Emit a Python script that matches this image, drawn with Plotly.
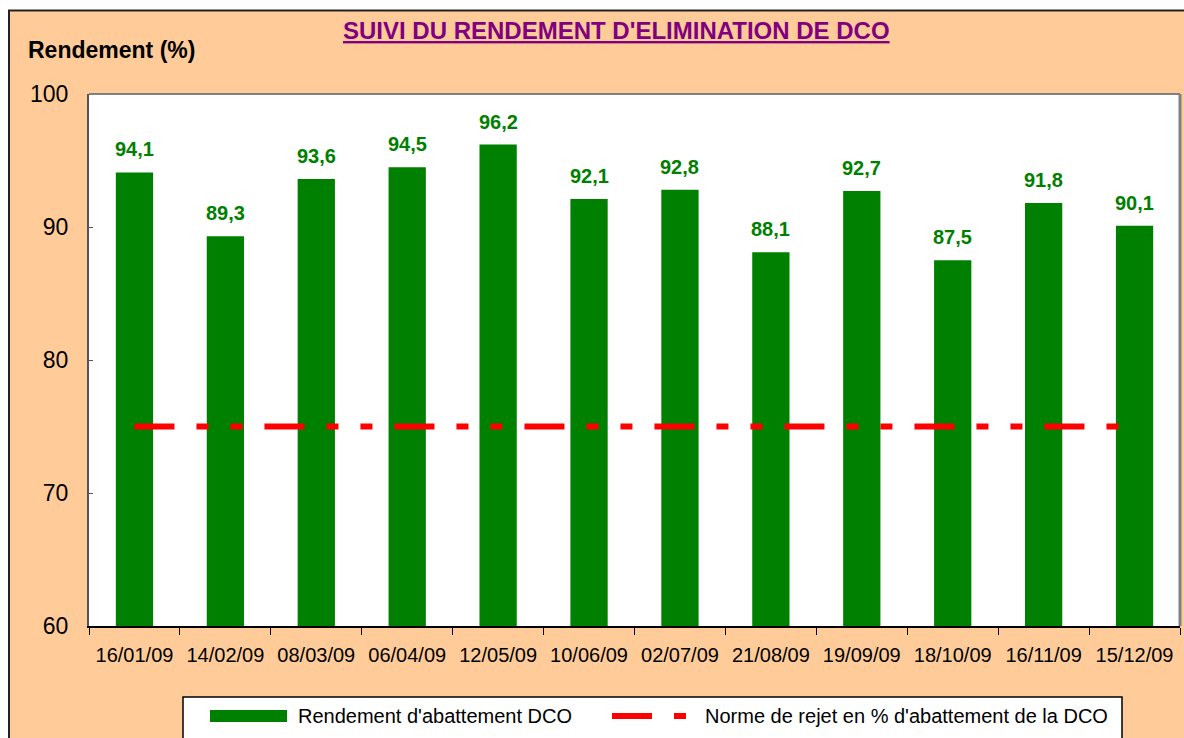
import plotly.graph_objects as go

dates = ["16/01/09", "14/02/09", "08/03/09", "06/04/09", "12/05/09", "10/06/09",
         "02/07/09", "21/08/09", "19/09/09", "18/10/09", "16/11/09", "15/12/09"]
rendement = [94.1, 89.3, 93.6, 94.5, 96.2, 92.1, 92.8, 88.1, 92.7, 87.5, 91.8, 90.1]
norme = [75] * len(dates)
labels = [f"{v:.1f}".replace(".", ",") for v in rendement]
series_names = ["Rendement d'abattement DCO", "Norme de rejet en % d'abattement de la DCO"]

FONT = "Liberation Sans, Arial, sans-serif"
PEACH = "#FFCC99"
GREEN = "#008000"
RED = "#FF0000"
DASH = "40px,22px,12px,22px,12px,22px"

fig = go.Figure()
fig.add_trace(go.Bar(x=dates, y=rendement, name=series_names[0],
                     marker=dict(color=GREEN, line=dict(width=0))))
fig.add_trace(go.Scatter(x=dates, y=norme, mode="lines", name=series_names[1],
                         line=dict(color=RED, width=6, dash=DASH)))

for d, v, t in zip(dates, rendement, labels):
    fig.add_annotation(x=d, y=v, text=f"<b>{t}</b>", showarrow=False,
                       yshift=23, font=dict(family=FONT, size=20, color=GREEN))

L, R, T, B = 89, 4, 94, 112
W, H = 1184, 738
pw, ph = W - L - R, H - T - B

def px_x(p):
    return (p - L) / pw

def px_y(p):
    return (H - B - p) / ph

# outer white margin and chart border
fig.add_shape(type="rect", xref="paper", yref="paper",
              x0=px_x(-2), x1=px_x(W + 2), y0=px_y(-2), y1=px_y(10),
              fillcolor="white", line=dict(width=0), layer="above")
fig.add_shape(type="rect", xref="paper", yref="paper",
              x0=px_x(-2), x1=px_x(8), y0=px_y(-2), y1=px_y(H + 2),
              fillcolor="white", line=dict(width=0), layer="above")
fig.add_shape(type="line", xref="paper", yref="paper",
              x0=px_x(8), x1=px_x(W + 2), y0=px_y(10.5), y1=px_y(10.5),
              line=dict(color="#222222", width=2))
fig.add_shape(type="line", xref="paper", yref="paper",
              x0=px_x(9), x1=px_x(9), y0=px_y(10), y1=px_y(H + 2),
              line=dict(color="#222222", width=2))

fig.add_annotation(xref="paper", yref="paper", x=px_x(616), y=px_y(31),
                   text="<u><b>SUIVI DU RENDEMENT D'ELIMINATION DE DCO</b></u>",
                   showarrow=False, xanchor="center", yanchor="middle",
                   font=dict(family=FONT, size=24, color="#800080"))
fig.add_annotation(xref="paper", yref="paper", x=px_x(26), y=px_y(50),
                   text="<b>Rendement (%)</b>", showarrow=False,
                   xanchor="left", yanchor="middle",
                   font=dict(family=FONT, size=23, color="black"))

# legend box (drawn manually to match wide swatches)
fig.add_shape(type="rect", xref="paper", yref="paper",
              x0=px_x(183), x1=px_x(1122), y0=px_y(697), y1=px_y(H + 5),
              fillcolor="white", line=dict(color="black", width=1.5), layer="above")
fig.add_shape(type="rect", xref="paper", yref="paper",
              x0=px_x(210), x1=px_x(287), y0=px_y(710), y1=px_y(722),
              fillcolor=GREEN, line=dict(width=0), layer="above")
fig.add_shape(type="line", xref="paper", yref="paper",
              x0=px_x(612), x1=px_x(692), y0=px_y(716), y1=px_y(716),
              line=dict(color=RED, width=6, dash=DASH), layer="above")
fig.add_annotation(xref="paper", yref="paper", x=px_x(296), y=px_y(716),
                   text=series_names[0], showarrow=False, xanchor="left", yanchor="middle",
                   font=dict(family=FONT, size=20, color="black"))
fig.add_annotation(xref="paper", yref="paper", x=px_x(703), y=px_y(716),
                   text=series_names[1], showarrow=False, xanchor="left", yanchor="middle",
                   font=dict(family=FONT, size=20, color="black"))

fig.update_layout(
    width=W, height=H,
    margin=dict(l=L, r=R, t=T, b=B),
    paper_bgcolor=PEACH, plot_bgcolor="white",
    bargap=0.59,
    font=dict(family=FONT, color="black"),
    showlegend=False,
)
fig.update_xaxes(type="category", showline=True, linecolor="black", linewidth=1.5,
                 mirror=False, ticks="outside", tickson="boundaries", ticklen=7,
                 tickcolor="black", tickfont=dict(family=FONT, size=20, color="black"),
                 ticklabelstandoff=10, showgrid=False)
fig.update_yaxes(range=[60, 100], tickvals=[60, 70, 80, 90, 100],
                 showline=True, linecolor="#555555", linewidth=2,
                 ticks="inside", ticklen=4, tickcolor="#555555",
                 tickfont=dict(family=FONT, size=23, color="black"),
                 ticklabelstandoff=14, showgrid=False, zeroline=False)
# gray border on top/right of plot area
fig.add_shape(type="line", xref="paper", yref="paper", x0=0, x1=1, y0=1, y1=1,
              line=dict(color="#808080", width=2))
fig.add_shape(type="line", xref="paper", yref="paper", x0=1, x1=1, y0=0, y1=1,
              line=dict(color="#808080", width=3))

fig.write_html("out.html", config={"displayModeBar": False},
               post_script="document.body.style.margin='0';document.body.style.overflow='hidden';")
